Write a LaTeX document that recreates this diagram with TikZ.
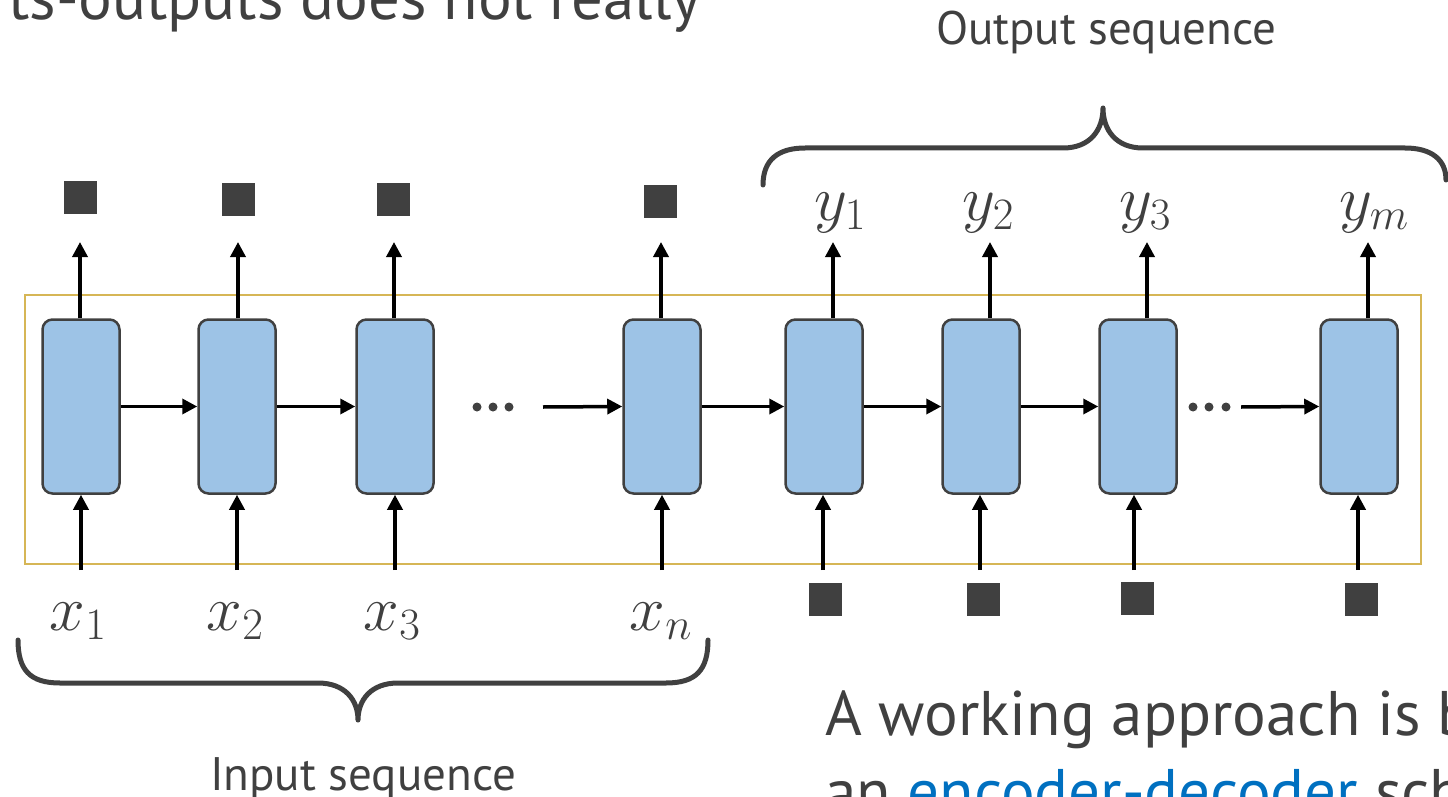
\documentclass[tikz,border=0pt]{standalone}
\usepackage{fix-cm}
\usepackage{fontspec}
\setmainfont{PT Sans}
\usetikzlibrary{arrows.meta}

\definecolor{ink}{HTML}{404040}
\definecolor{cellfill}{HTML}{9DC3E6}
\definecolor{framecol}{HTML}{D6B656}
\definecolor{linkcol}{HTML}{0070C0}

\tikzset{
  cell/.style={draw=ink, line width=2.5pt, fill=cellfill, rounded corners=10pt,
               minimum width=77pt, minimum height=174pt, inner sep=0pt},
  tok/.style={fill=ink, minimum size=33pt, inner sep=0pt},
  arr/.style={-{Triangle[length=15pt,width=15pt]}, line width=3.5pt, black},
  brace/.style={draw=ink, line width=5pt, line cap=round, line join=round},
  sym/.style={inner sep=0pt, anchor=base, text=ink,
              font=\fontsize{64}{70}\selectfont},
  caption/.style={inner sep=0pt, anchor=base, text=ink,
                  font=\fontsize{47}{56}\selectfont},
  prose/.style={inner sep=0pt, anchor=base west, text=ink,
                font=\fontsize{63}{78}\selectfont},
  dot/.style={circle, fill=ink, minimum size=9pt, inner sep=0pt}
}

\begin{document}
\begin{tikzpicture}[x=1pt, y=-1pt]
  \useasboundingbox (0,0) rectangle (1448,797);
  \clip (0,0) rectangle (1448,797);

  % surrounding frame of the recurrent network
  \draw[framecol, line width=2.5pt] (25,295) rectangle (1421,564);

  % encoder cells
  \node[cell] (c1) at (81,406.5) {};
  \node[cell] (c2) at (237,406.5) {};
  \node[cell] (c3) at (395,406.5) {};
  \node[cell] (c4) at (662,406.5) {};
  % decoder cells
  \node[cell] (d1) at (824,406.5) {};
  \node[cell] (d2) at (981,406.5) {};
  \node[cell] (d3) at (1138,406.5) {};
  \node[cell] (d4) at (1359,406.5) {};

  % discarded encoder outputs
  \node[tok] (o1) at (80.5,197.5) {};
  \node[tok] (o2) at (238.5,199.5) {};
  \node[tok] (o3) at (393.5,199.5) {};
  \node[tok] (o4) at (660.5,201.5) {};
  % empty decoder inputs
  \node[tok] (i1) at (825.5,599.5) {};
  \node[tok] (i2) at (983.5,599.5) {};
  \node[tok] (i3) at (1137.5,598.5) {};
  \node[tok] (i4) at (1361.5,599.5) {};

  % input symbols
  \node[sym] (x1) at (78,630) {$x_1$};
  \node[sym] (x2) at (235,630) {$x_2$};
  \node[sym] (x3) at (392,630) {$x_3$};
  \node[sym] (xn) at (661,630) {$x_n$};
  % output symbols
  \node[sym] (y1) at (840,220) {$y_1$};
  \node[sym] (y2) at (988,220) {$y_2$};
  \node[sym] (y3) at (1145,220) {$y_3$};
  \node[sym] (ym) at (1374,220) {$y_m$};

  % rows where vertical arrows start and end
  \coordinate (otop) at (0,242);
  \coordinate (ibot) at (0,570);

  % outputs leaving the cells
  \foreach \c/\dx in {c1/-1,c2/1,c3/-1,c4/-1,d1/9,d2/9,d3/9,d4/9}
    \draw[arr] ([xshift=\dx pt]\c.north) -- ([xshift=\dx pt]\c.north |- otop);
  % inputs entering the cells
  \foreach \c/\dx in {c1/0,c2/0,c3/0,c4/0,d1/-1,d2/-1,d3/-4,d4/-1}
    \draw[arr] ([xshift=\dx pt]\c.south |- ibot) -- ([xshift=\dx pt]\c.south);

  % recurrent connections
  \draw[arr] (c1.east) -- (c2.west);
  \draw[arr] (c2.east) -- (c3.west);
  \coordinate (s4) at (543,407);
  \draw[arr] (s4) -- (c4.west);
  \draw[arr] (c4.east) -- (d1.west);
  \draw[arr] (d1.east) -- (d2.west);
  \draw[arr] (d2.east) -- (d3.west);
  \coordinate (s8) at (1241,407);
  \draw[arr] (s8) -- (d4.west);

  % ellipses
  \foreach \px in {477,493,509} \node[dot] at (\px,407) {};
  \foreach \px in {1193,1209,1226} \node[dot] at (\px,407) {};

  % brace under the input sequence
  \draw[brace] (18,640) .. controls (18,670) and (30,683) .. (60,683)
    -- (318,683) .. controls (345,683) and (358,700) .. (358,720)
    .. controls (358,700) and (371,683) .. (398,683)
    -- (666,683) .. controls (696,683) and (708,670) .. (708,640);
  % brace over the output sequence
  \draw[brace] (763,185) .. controls (763,160) and (778,148) .. (805,148)
    -- (1063,148) .. controls (1090,148) and (1103,130) .. (1103,108)
    .. controls (1103,130) and (1116,148) .. (1143,148)
    -- (1405,148) .. controls (1432,148) and (1446,160) .. (1446,180);

  \node[caption] (inlab) at (363,790) {Input sequence};
  \node[caption] (outlab) at (1106,45) {Output sequence};

  % surrounding slide text
  \node[prose] (top) at (8,20) {ts-outputs does not really};
  \node[prose] (line1) at (825,735) {A working approach is based on};
  \node[prose] (line2) at (825,813)
    {an \textcolor{linkcol}{encoder-decoder} scheme};
\end{tikzpicture}
\end{document}
